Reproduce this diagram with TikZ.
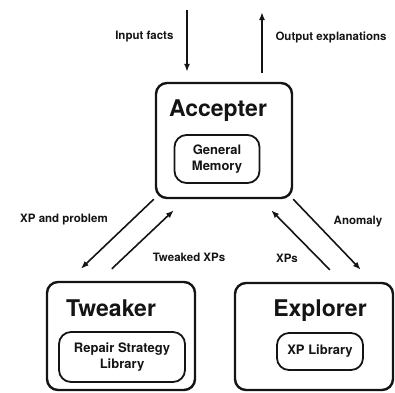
\documentclass[tikz,border=0pt]{standalone}
\usepackage{fontspec}
\setsansfont{TeX Gyre Heros}
\usepackage{tikz}
\usetikzlibrary{arrows.meta}
\definecolor{ink}{HTML}{141414}

\begin{document}
\begin{tikzpicture}[x=1pt, y=-1pt,
  outer/.style={draw=ink, line width=2.4pt, rounded corners=11pt},
  inner/.style={draw=ink, line width=1.8pt, rounded corners=12pt, align=center, text=ink, font=\sffamily\bfseries\fontsize{13}{16}\selectfont},
  title/.style={font=\sffamily\bfseries\fontsize{23}{26}\selectfont, text=ink},
  lbl/.style={font=\sffamily\bfseries\fontsize{11.5}{13}\selectfont, text=ink},
  flow/.style={draw=ink, line width=1.6pt, -{Latex[length=8pt,width=6pt]}}]
  \useasboundingbox (0,0) rectangle (395,392);

  % the three modules
  \node[outer, minimum width=136pt, minimum height=115pt] (acc) at (224,140.5) {};
  \node[title] (accTitle) at (218,111) {Accepter};
  \node[inner, minimum width=85pt, minimum height=48pt] (mem) at (217,159) {General\\Memory};

  \node[outer, minimum width=148pt, minimum height=108pt] (tw) at (121,336) {};
  \node[title] (twTitle) at (111,308.5) {Tweaker};
  \node[inner, minimum width=126pt, minimum height=50pt] (rep) at (122,357) {Repair Strategy\\Library};

  \node[outer, minimum width=158pt, minimum height=107pt] (ex) at (314,336.5) {};
  \node[title] (exTitle) at (320,311) {Explorer};
  \node[inner, minimum width=86pt, minimum height=37pt] (xpl) at (320,351.5) {XP Library};

  % in and out
  \coordinate (factsIn) at (187,10);
  \coordinate (explOut) at (262,12);
  \draw[flow] (factsIn) -- ([yshift=10pt]factsIn |- acc.north);
  \draw[flow] ([yshift=9pt]explOut |- acc.north) -- (explOut);
  \node[lbl, anchor=east] (inLbl) at (177,37) {Input facts};
  \node[lbl, anchor=west] (outLbl) at (272,37) {Output explanations};

  % between the modules
  \draw[flow] ([shift={(-1,0)}]acc.south west) -- ([shift={(35,-12)}]tw.north west);
  \draw[flow] ([shift={(66,-12)}]tw.north west) -- ([shift={(19,11)}]acc.south west);
  \draw[flow] ([shift={(96,-12)}]ex.north west) -- ([shift={(-22,11)}]acc.south east);
  \draw[flow] (acc.south east) -- ([shift={(127,-12)}]ex.north west);
  \node[lbl] (xpProb) at (64,220) {XP and problem};
  \node[lbl] (tweaked) at (189,257) {Tweaked XPs};
  \node[lbl] (xps) at (287,258) {XPs};
  \node[lbl] (anom) at (358,222) {Anomaly};
\end{tikzpicture}
\end{document}
